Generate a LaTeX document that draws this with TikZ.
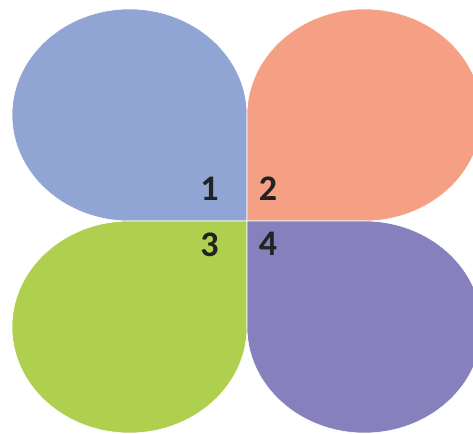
\documentclass[tikz,border=0pt]{standalone}
\usepackage{fontspec}
\newfontfamily\numfont{Carlito Bold}
\definecolor{cblue}{HTML}{91A5D5}
\definecolor{csalmon}{HTML}{F5A084}
\definecolor{cgreen}{HTML}{AFD04F}
\definecolor{cpurple}{HTML}{8680BC}
\definecolor{cnum}{HTML}{222222}
\begin{document}
\begin{tikzpicture}[x=1pt,y=1pt,
  petal/.style={draw=white,line width=0.6pt},
  num/.style={text=cnum,font=\numfont\fontsize{36}{36}\selectfont,inner sep=0pt,anchor=center}]
\useasboundingbox (0,0) rectangle (473,433);
\clip (0,0) rectangle (473,433);
% top-left (blue)
\path[petal,fill=cblue] (247,318) arc[start angle=0,end angle=270,x radius=117.5,y radius=106] -- (247,212) -- cycle;
% top-right (salmon)
\path[petal,fill=csalmon] (364.5,212) arc[start angle=-90,end angle=180,x radius=117.5,y radius=106] -- (247,212) -- cycle;
% bottom-left (green)
\path[petal,fill=cgreen] (129.5,212) arc[start angle=90,end angle=360,x radius=117.5,y radius=106] -- (247,212) -- cycle;
% bottom-right (purple)
\path[petal,fill=cpurple] (247,106) arc[start angle=180,end angle=450,x radius=117.5,y radius=106] -- (247,212) -- cycle;
\node[num] (n1) at (209.5,244.5) {1};
\node[num] (n2) at (268,244.5) {2};
\node[num] (n3) at (209.5,188.5) {3};
\node[num] (n4) at (268,189) {4};
\end{tikzpicture}
\end{document}
